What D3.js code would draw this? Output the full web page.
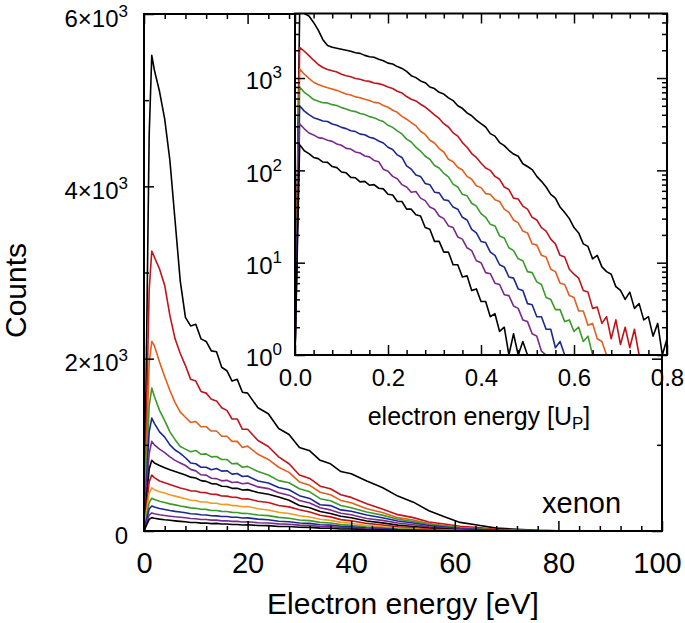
<!DOCTYPE html>
<html><head><meta charset="utf-8">
<script src="https://cdn.jsdelivr.net/npm/d3@7/dist/d3.min.js"></script>
<style>
body{margin:0;background:#fff}
svg{display:block}
text{font-family:"Liberation Sans",Arial,Helvetica,sans-serif;fill:#000}
</style>
</head><body>
<svg id="chart" width="685" height="623"></svg>
<script>
// ---------- main panel data (Electron energy [eV] vs Counts) ----------
const energyEV = [0,0.5,1,1.5,2,3,4,5,6,7,8,9,10,11,12,13,14,15,16,17,18,19,20,22,24,26,28,30,32,34,36,38,40,43,46,49,52,55,58,61,64,68,72,76,80,90,100];
const counts1  = [0,2200,4600,5520,5350,5100,4780,4300,3600,2900,2480,2380,2400,2230,2200,2090,2080,1900,1860,1740,1760,1610,1600,1430,1360,1190,1120,970,930,820,780,690,665,580,505,405,335,235,165,100,72,33,20,8,3,0,0];
const counts2  = [0,1400,2800,3250,3180,3040,2850,2500,2230,2060,1920,1760,1740,1620,1600,1530,1510,1430,1400,1300,1300,1180,1180,1050,980,860,780,650,610,520,490,420,390,315,255,190,155,105,82,55,42,20,11,4,2,0,0];
const counts3  = [0,1000,1950,2200,2150,1960,1790,1630,1490,1380,1320,1260,1270,1210,1210,1160,1160,1100,1100,1040,1040,970,985,890,830,740,680,570,530,450,420,355,328,258,215,155,128,86,64,40,29,14,7,2,0,0,0];
const counts4  = [0,750,1450,1660,1560,1400,1280,1150,1060,980,950,920,935,890,895,860,865,830,830,780,785,740,750,690,650,585,560,490,455,375,352,295,270,220,184,136,110,78,57,36,25,12,6,2,0,0,0];
const counts5  = [0,600,1150,1310,1250,1150,1090,1000,940,900,850,790,780,740,740,710,725,695,700,660,668,632,638,580,558,505,478,410,378,305,295,245,230,185,154,117,92,63,46,29,21,9,4,1,0,0,0];
const counts6  = [0,480,900,1040,1000,950,910,860,820,790,760,715,698,652,648,612,608,582,588,562,568,548,556,512,492,444,416,354,326,270,245,206,189,146,123,92,72,48,36,23,16,7,3,0,0,0,0];
const counts7  = [0,380,720,820,790,760,735,710,690,670,650,625,616,585,576,550,546,520,516,495,496,476,480,446,426,395,356,296,270,226,204,171,154,117,94,68,52,34,25,14,9,4,1,0,0,0,0];
const counts8  = [0,300,570,650,620,580,560,540,520,500,485,466,465,446,445,426,425,406,405,391,390,372,374,346,330,296,280,246,220,182,164,132,118,88,70,48,37,24,17,9,6,3,1,0,0,0,0];
const counts9  = [0,230,440,500,480,455,440,420,405,390,375,357,354,337,336,322,322,307,309,295,294,282,284,259,244,217,204,177,163,137,123,100,90,63,49,34,26,14,10,6,3,1,0,0,0,0,0];
const counts10 = [0,170,330,380,365,345,330,315,303,290,280,268,263,252,251,238,238,228,227,216,215,204,203,186,178,158,148,128,120,100,92,74,66,46,36,24,18,10,6,4,2,0,0,0,0,0,0];
const counts11 = [0,130,255,290,278,262,250,238,228,220,211,201,197,188,186,177,176,168,168,159,159,151,152,138,130,114,107,93,88,73,68,55,48,34,27,17,12,7,4,2,1,0,0,0,0,0,0];
const counts12 = [0,95,185,210,200,188,180,172,165,160,153,145,142,134,134,126,126,118,119,112,112,105,107,96,93,83,79,68,65,53,50,40,36,24,19,11,8,5,3,1,0,0,0,0,0,0,0];
const counts13 = [0,70,135,155,148,138,130,124,118,112,107,98,98,91,92,86,88,82,82,75,76,70,72,63,62,53,52,43,42,33,32,24,23,14,12,7,5,3,2,1,0,0,0,0,0,0,0];
const mainSeries = [counts1,counts2,counts3,counts4,counts5,counts6,counts7,counts8,counts9,counts10,counts11,counts12,counts13];
const mainColors = ["#000000","#c0141c","#e0601e","#3a9a2a","#1c2890","#7a2a8c","#000000","#c0141c","#f09a20","#3a9a2a","#1c2890","#7a2a8c","#000000"];
const xMajorTicks = [0,20,40,60,80,100];
const xMinorTicks = [4,8,12,16,24,28,32,36,44,48,52,56,64,68,72,76,84,88,92,96];
const yMajorTicks = [0,2000,4000,6000];
const yMinorTicks = [1000,3000,5000];

// ---------- inset data (electron energy [U_P], log counts) ----------
const energyUP = [0,0.01,0.02,0.03,0.04,0.05,0.06,0.07,0.08,0.09,0.10,0.11,0.12,0.13,0.14,0.15,0.16,0.17,0.18,0.19,0.20,0.21,0.22,0.23,0.24,0.25,0.26,0.27,0.28,0.29,0.30,0.31,0.32,0.33,0.34,0.35,0.36,0.37,0.38,0.39,0.40,0.41,0.42,0.43,0.44,0.45,0.46,0.47,0.48,0.49,0.50,0.51,0.52,0.53,0.54,0.55,0.56,0.57,0.58,0.59,0.60,0.61,0.62,0.63,0.64,0.65,0.66,0.67,0.68,0.69,0.70,0.71,0.72,0.73,0.74,0.75,0.76,0.77,0.78,0.79,0.80];
const inset1 = [1,5200,5000,4700,4000,3300,2600,2250,2150,2100,2050,2000,1950,1880,1850,1760,1700,1680,1600,1540,1450,1420,1330,1270,1180,1060,1010,930,890,800,770,700,670,610,570,500,470,420,390,350,320,295,250,235,200,185,165,150,142,118,110,102,86,76,66,55,50,40,35,30,24,21,16,15,11,12,9,8,7.5,5.5,5,4,4.8,3.2,3.6,2.4,2.6,1.6,2.2,1,1.5];
const inset2 = [1,2150,1950,1750,1560,1400,1300,1240,1200,1160,1100,1060,1030,990,970,935,920,885,870,840,800,770,720,690,630,590,565,520,485,440,400,365,320,295,255,235,200,178,152,138,120,106,100,86,80,66,62,50,49,41,38,31,29,24,22,18,16,12,11.5,8.5,7.5,6.8,5,4.8,3.2,3.3,2.2,2.6,1.5,2.4,1.3,2,1.2,1.9,1,1,1,1,1,1,1];
const inset3 = [1,1250,1100,990,900,850,815,785,760,735,700,670,655,625,612,588,572,545,538,505,482,448,425,385,358,328,305,265,245,212,198,172,158,132,124,108,101,86,80,68,65,56,55,48,46,38,35,29,27,22,21,16,15.5,12,11.5,8.5,8,6,5.8,4.4,4.2,3,3,2.1,2.2,1.5,1.4,1,1,1,1,1,1,1,1,1,1,1,1,1,1];
const inset4 = [1,800,700,645,585,562,540,538,515,505,478,462,442,433,412,402,382,372,352,338,308,292,268,248,218,203,178,162,142,132,113,106,93,85,71,66,55,53,44,41,34,31,26,25,19.5,18.5,14.5,13.5,11,10.5,8,7.8,6.2,5.8,4.2,4,3.1,3.1,2.3,2.4,1.8,2,1.4,1.6,1,1,1,1,1,1,1,1,1,1,1,1,1,1,1,1,1];
const inset5 = [1,500,438,402,372,358,342,338,318,308,292,283,268,263,247,243,228,222,208,198,178,168,147,138,112,103,89,86,72,70,58,57,48,47,40,38,31,29,23,21,17,16.5,13,12,9.5,9,7,6.8,5.2,5,3.6,3.5,2.6,2.6,1.9,1.9,1.2,1.4,1,1,1,1,1,1,1,1,1,1,1,1,1,1,1,1,1,1,1,1,1,1,1];
const inset6 = [1,320,282,254,242,226,222,212,206,193,187,173,170,158,154,143,140,128,124,103,98,86,81,70,66,58,59,50,47,40,38,32,30,25,24,19,18,14.5,13.5,10.5,10,7.8,7.6,6,5.8,4.5,4.4,3.4,3.2,2.4,2.3,1.7,1.6,1.1,1,1,1,1,1,1,1,1,1,1,1,1,1,1,1,1,1,1,1,1,1,1,1,1,1,1,1];
const inset7 = [1,190,163,152,138,134,123,122,110,107,96,94,84,83,75,76,69,70,64,63,55,54,46,46,38,38,33,32,24,23,17,17,13,13,9.5,9.5,7,7.2,5,5.2,3.8,3.8,2.6,2.8,1.8,2,1,1.7,1,1.4,1,1,1,1,1,1,1,1,1,1,1,1,1,1,1,1,1,1,1,1,1,1,1,1,1,1,1,1,1,1,1];
const insetSeries = [inset1,inset2,inset3,inset4,inset5,inset6,inset7];
const insetColors = ["#000000","#c0141c","#e0601e","#3a9a2a","#1c2890","#7a2a8c","#000000"];
const insetXMajor = [0,0.2,0.4,0.6,0.8];
const insetXMinor = [0.04,0.08,0.12,0.16,0.24,0.28,0.32,0.36,0.44,0.48,0.52,0.56,0.64,0.68,0.72,0.76];
const insetYMajor = [1,10,100,1000];
const insetYMinor = [2,3,4,5,6,7,8,9,20,30,40,50,60,70,80,90,200,300,400,500,600,700,800,900,2000,3000,4000,5000];

// ---------- drawing ----------
const svg = d3.select("#chart");
const M = {l:144, r:662, t:14, b:531};
const x = d3.scaleLinear().domain([0,100]).range([M.l, M.r]);
const y = d3.scaleLinear().domain([0,6000]).range([M.b, M.t]);

const defs = svg.append("defs");
defs.append("clipPath").attr("id","clipMain").append("rect")
  .attr("x",M.l).attr("y",M.t).attr("width",M.r-M.l).attr("height",M.b-M.t);

const mainLine = d3.line().x((d,i)=>x(energyEV[i])).y(d=>y(d));
const gMain = svg.append("g").attr("clip-path","url(#clipMain)");
mainSeries.forEach((s,k)=>{
  gMain.append("path").datum(s).attr("d",mainLine)
    .attr("fill","none").attr("stroke",mainColors[k]).attr("stroke-width",1.6)
    .attr("stroke-linejoin","round");
});

function styleAxis(g){ g.select(".domain").remove(); g.selectAll(".tick line").attr("stroke","#000").attr("stroke-width",1.5); }

// main axes
const axB = svg.append("g").attr("transform",`translate(0,${M.b})`)
  .call(d3.axisBottom(x).tickValues(xMajorTicks).tickSizeInner(-10).tickSizeOuter(0).tickPadding(14));
axB.call(styleAxis);
axB.selectAll(".tick text").attr("font-size",29).attr("dy","0.95em")
  .attr("dx", d => d === 100 ? -5 : 0);
svg.append("g").attr("transform",`translate(0,${M.b})`)
  .call(d3.axisBottom(x).tickValues(xMinorTicks).tickSizeInner(-5).tickSizeOuter(0).tickFormat(""))
  .call(styleAxis);
svg.append("g").attr("transform",`translate(0,${M.t})`)
  .call(d3.axisTop(x).tickValues(xMajorTicks).tickSizeInner(-10).tickSizeOuter(0).tickFormat(""))
  .call(styleAxis);
svg.append("g").attr("transform",`translate(0,${M.t})`)
  .call(d3.axisTop(x).tickValues(xMinorTicks).tickSizeInner(-5).tickSizeOuter(0).tickFormat(""))
  .call(styleAxis);

const axL = svg.append("g").attr("transform",`translate(${M.l},0)`)
  .call(d3.axisLeft(y).tickValues(yMajorTicks).tickSizeInner(-10).tickSizeOuter(0).tickPadding(16));
axL.call(styleAxis);
axL.selectAll(".tick text").attr("font-size",24).attr("dy","0.5em").each(function(d){
  const t = d3.select(this); t.text(null);
  if (d === 0) { t.text("0"); return; }
  t.append("tspan").text((d/1000) + "\u00d710");
  t.append("tspan").attr("font-size",17).attr("dy",-10).text("3");
});
svg.append("g").attr("transform",`translate(${M.l},0)`)
  .call(d3.axisLeft(y).tickValues(yMinorTicks).tickSizeInner(-5).tickSizeOuter(0).tickFormat(""))
  .call(styleAxis);
svg.append("g").attr("transform",`translate(${M.r},0)`)
  .call(d3.axisRight(y).tickValues(yMajorTicks).tickSizeInner(-10).tickSizeOuter(0).tickFormat(""))
  .call(styleAxis);
svg.append("g").attr("transform",`translate(${M.r},0)`)
  .call(d3.axisRight(y).tickValues(yMinorTicks).tickSizeInner(-5).tickSizeOuter(0).tickFormat(""))
  .call(styleAxis);

svg.append("rect").attr("x",M.l).attr("y",M.t).attr("width",M.r-M.l).attr("height",M.b-M.t)
  .attr("fill","none").attr("stroke","#000").attr("stroke-width",2);

svg.append("text").attr("x",(M.l+M.r)/2).attr("y",614).attr("text-anchor","middle")
  .attr("font-size",30).text("Electron energy [eV]");
svg.append("text").attr("transform",`translate(26,${(M.t+M.b)/2+18}) rotate(-90)`)
  .attr("text-anchor","middle").attr("font-size",30).text("Counts");
svg.append("text").attr("x",542).attr("y",513).attr("font-size",29).text("xenon");

// ---------- inset ----------
const I = {l:295, r:667, t:13.5, b:355};
const xi = d3.scaleLinear().domain([0,0.8]).range([I.l, I.r]);
const yi = d3.scaleLog().domain([1,5000]).range([I.b, I.t]);

svg.append("rect").attr("x",I.l).attr("y",I.t).attr("width",I.r-I.l).attr("height",I.b-I.t).attr("fill","#fff");
defs.append("clipPath").attr("id","clipInset").append("rect")
  .attr("x",I.l).attr("y",I.t).attr("width",I.r-I.l).attr("height",I.b-I.t);
const insetLine = d3.line().x((d,i)=>xi(energyUP[i])).y(d=>yi(Math.max(1,d)));
const gIn = svg.append("g").attr("clip-path","url(#clipInset)");
insetSeries.forEach((s,k)=>{
  gIn.append("path").datum(s).attr("d",insetLine)
    .attr("fill","none").attr("stroke",insetColors[k]).attr("stroke-width",1.6)
    .attr("stroke-linejoin","round");
});

const iaB = svg.append("g").attr("transform",`translate(0,${I.b})`)
  .call(d3.axisBottom(xi).tickValues(insetXMajor).tickSizeInner(-10).tickSizeOuter(0).tickPadding(12).tickFormat(d3.format(".1f")));
iaB.call(styleAxis);
iaB.selectAll(".tick text").attr("font-size",24).attr("dy","0.8em");
svg.append("g").attr("transform",`translate(0,${I.b})`)
  .call(d3.axisBottom(xi).tickValues(insetXMinor).tickSizeInner(-5).tickSizeOuter(0).tickFormat(""))
  .call(styleAxis);
svg.append("g").attr("transform",`translate(0,${I.t})`)
  .call(d3.axisTop(xi).tickValues(insetXMajor).tickSizeInner(-10).tickSizeOuter(0).tickFormat(""))
  .call(styleAxis);
svg.append("g").attr("transform",`translate(0,${I.t})`)
  .call(d3.axisTop(xi).tickValues(insetXMinor).tickSizeInner(-5).tickSizeOuter(0).tickFormat(""))
  .call(styleAxis);

const iaL = svg.append("g").attr("transform",`translate(${I.l},0)`)
  .call(d3.axisLeft(yi).tickValues(insetYMajor).tickSizeInner(-10).tickSizeOuter(0).tickPadding(13));
iaL.call(styleAxis);
iaL.selectAll(".tick text").attr("font-size",24).attr("dy","0.45em").each(function(d){
  const t = d3.select(this); t.text(null);
  t.append("tspan").text("10");
  t.append("tspan").attr("font-size",17).attr("dy",-11).text(String(Math.round(Math.log10(d))));
});
svg.append("g").attr("transform",`translate(${I.l},0)`)
  .call(d3.axisLeft(yi).tickValues(insetYMinor).tickSizeInner(-5).tickSizeOuter(0).tickFormat(""))
  .call(styleAxis);
svg.append("g").attr("transform",`translate(${I.r},0)`)
  .call(d3.axisRight(yi).tickValues(insetYMajor).tickSizeInner(-10).tickSizeOuter(0).tickFormat(""))
  .call(styleAxis);
svg.append("g").attr("transform",`translate(${I.r},0)`)
  .call(d3.axisRight(yi).tickValues(insetYMinor).tickSizeInner(-5).tickSizeOuter(0).tickFormat(""))
  .call(styleAxis);

svg.append("rect").attr("x",I.l).attr("y",I.t).attr("width",I.r-I.l).attr("height",I.b-I.t)
  .attr("fill","none").attr("stroke","#000").attr("stroke-width",2);

const lab = svg.append("text").attr("x",479).attr("y",425).attr("text-anchor","middle").attr("font-size",25);
lab.append("tspan").text("electron energy [U");
lab.append("tspan").attr("font-size",17).attr("dy",4).text("P");
lab.append("tspan").attr("dy",-4).text("]");
</script>
</body></html>
